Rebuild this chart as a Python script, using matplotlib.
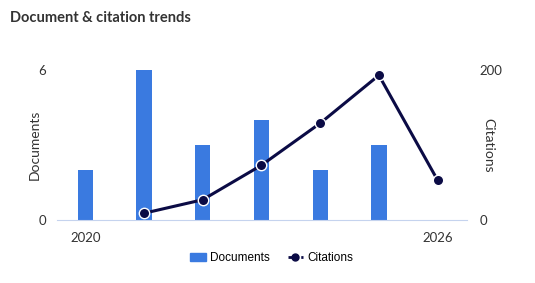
import matplotlib.pyplot as plt
import numpy as np
from matplotlib.lines import Line2D
from matplotlib.patches import Patch

years = ["2020", "2021", "2022", "2023", "2024", "2025", "2026"]
documents = [2, 6, 3, 4, 2, 3, 0]
cite_years = ["2021", "2022", "2023", "2024", "2025", "2026"]
citations = [9, 27, 73, 129, 193, 53]

bar_col = "#3a7ae0"
line_col = "#0b0b45"
txt_col = "#333333"

plt.rcParams['font.family'] = ['Lato', 'DejaVu Sans']

fig = plt.figure(figsize=(5.35, 2.83), dpi=100)
ax = fig.add_axes([57 / 535, 1 - 220 / 283, 410 / 535, 150 / 283])
ax2 = ax.twinx()

x = np.arange(len(years))
xc = np.array([years.index(y) for y in cite_years])

ax.bar(x, documents, width=0.26, color=bar_col, zorder=2)
ax2.plot(xc, citations, color=line_col, lw=2.2, marker='o', ms=7.5,
         mfc=line_col, mec='white', mew=1.0, clip_on=False, zorder=3)

ax.set_xlim(-0.48, 6.5)
ax.set_ylim(0, 6)
ax2.set_ylim(0, 200)
ax.set_yticks([0, 6])
ax2.set_yticks([0, 200])
ax.set_xticks([0, 6])
ax.set_xticklabels([years[0], years[-1]])

for a in (ax, ax2):
    for s in a.spines.values():
        s.set_visible(False)
    a.tick_params(length=0, labelsize=9.5, colors=txt_col)
ax.spines['bottom'].set_visible(True)
ax.spines['bottom'].set_color('#c5d3ee')
ax.tick_params(axis='x', pad=9)
ax.tick_params(axis='y', pad=8)
ax2.tick_params(axis='y', pad=9)

ax.set_ylabel("Documents", fontsize=10, color=txt_col, va='center')
ax.yaxis.set_label_coords(-22 / 410, 0.5)
ax2.set_ylabel("Citations", fontsize=10, color=txt_col, rotation=270, va='center')
ax2.yaxis.set_label_coords(1 + 21 / 410, 0.5)

fig.text(10 / 535, 1 - 18 / 283, "Document & citation trends", fontsize=10.5,
         fontweight='bold', color=txt_col, va='center')

handles = [
    Patch(color=bar_col, label="Documents"),
    Line2D([0], [0], color=line_col, lw=2, ls=(0, (1.5, 0.8)), marker='o', ms=5,
           label="Citations"),
]
fig.legend(handles=handles, loc='center', bbox_to_anchor=(272 / 535, 1 - 258 / 283),
           ncol=2, frameon=False, prop={'family': 'Liberation Sans', 'size': 8.5},
           handlelength=1.3, handletextpad=0.4, columnspacing=1.5)

fig.savefig("out.png", dpi=100)
